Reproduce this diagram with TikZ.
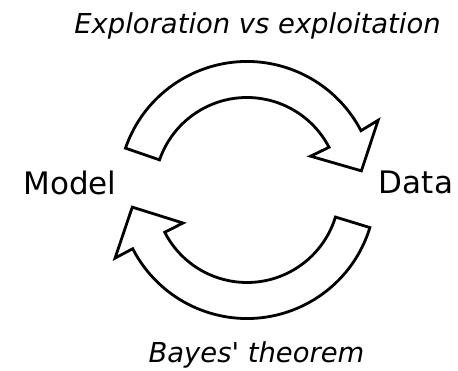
\documentclass[tikz,border=0pt]{standalone}
\usepackage{fontspec}
\setmainfont{DejaVu Sans}[Ligatures=TeXOff]
\begin{document}
\begin{tikzpicture}[x=1pt,y=1pt,
  arrowshape/.style={draw=black, fill=white, line width=2.8pt, line join=miter},
  bigLabel/.style={inner sep=0pt, anchor=base, font=\fontsize{31}{36}\selectfont},
  capLabel/.style={inner sep=0pt, anchor=base, font=\fontsize{27.4}{32}\selectfont\itshape}]
\useasboundingbox[fill=white] (0,0) rectangle (458,371);
\coordinate (c) at (247,181);
% top arrow: Model -> Data
\draw[arrowshape] ([shift={(161:128.5pt)}]c) arc[start angle=161, end angle=27.5, radius=128.5pt]
  -- ([shift={(28:148.5pt)}]c) -- ([shift={(9.5:116pt)}]c) -- ([shift={(28:72pt)}]c)
  -- ([shift={(27.5:92.5pt)}]c) arc[start angle=27.5, end angle=161, radius=92.5pt] -- cycle;
% bottom arrow: Data -> Model
\draw[arrowshape] ([shift={(-17:128.5pt)}]c) arc[start angle=-17, end angle=-152.8, radius=128.5pt]
  -- ([shift={(207.3:148.5pt)}]c) -- ([shift={(188.5:116pt)}]c) -- ([shift={(207.3:72pt)}]c)
  -- ([shift={(207.2:92.5pt)}]c) arc[start angle=207.2, end angle=343, radius=92.5pt] -- cycle;
\node[capLabel] (title) at (257.5,337) {Exploration vs exploitation};
\node[bigLabel] (model) at (70,176.5) {Model};
\node[bigLabel] (data) at (416,177) {Data};
\node[capLabel] (bayes) at (256.5,8) {Bayes' theorem};
\end{tikzpicture}
\end{document}
